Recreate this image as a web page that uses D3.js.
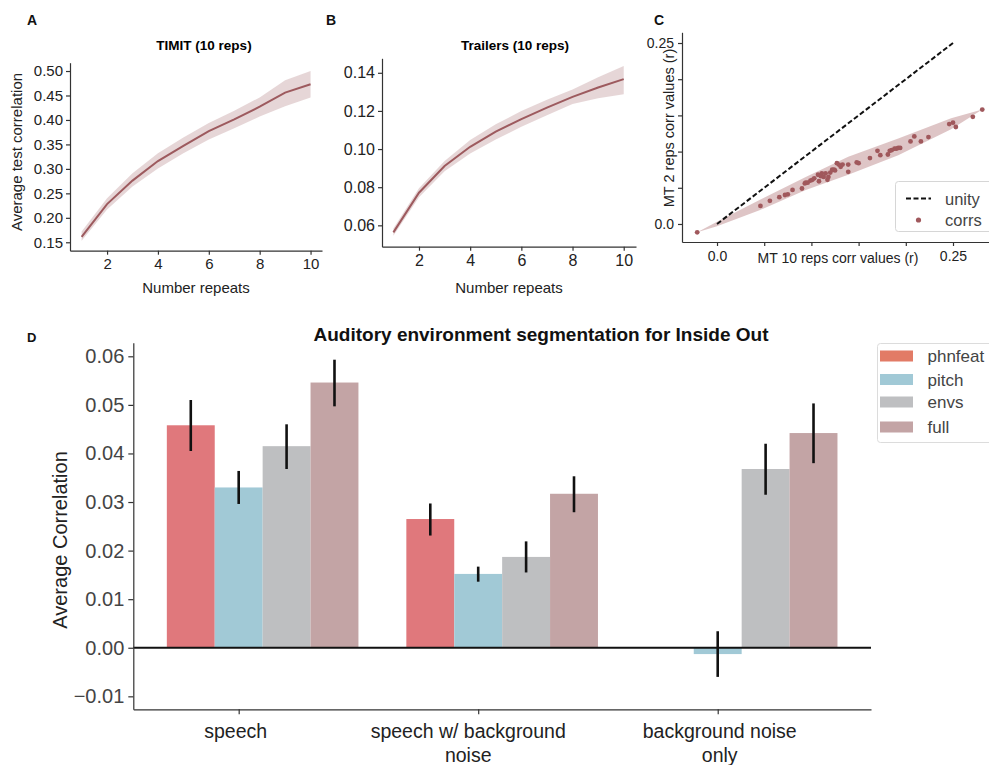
<!DOCTYPE html>
<html>
<head>
<meta charset="utf-8">
<script src="https://cdn.jsdelivr.net/npm/d3@7"></script>
<style>
  body { margin: 0; background: #fff; }
  svg { font-family: "Liberation Sans", Arial, sans-serif; }
  .dom path, .dom line { stroke: #333; stroke-width: 1.2; }
</style>
</head>
<body>
<svg id="fig" width="989" height="765"></svg>
<script>
// ---- data: panels A & B ----
const reps = [1, 2, 3, 4, 5, 6, 7, 8, 9, 10];
const timitMean = [0.161, 0.228, 0.276, 0.316, 0.347, 0.377, 0.401, 0.427, 0.456, 0.473];
const timitLo   = [0.153, 0.217, 0.264, 0.301, 0.332, 0.360, 0.383, 0.407, 0.428, 0.446];
const timitHi   = [0.172, 0.240, 0.291, 0.332, 0.364, 0.394, 0.419, 0.446, 0.481, 0.500];
const trailerMean = [0.0563, 0.0771, 0.0911, 0.1012, 0.1091, 0.1157, 0.1217, 0.1274, 0.1323, 0.1367];
const trailerLo   = [0.0545, 0.0747, 0.0884, 0.0977, 0.1050, 0.1117, 0.1177, 0.1236, 0.1266, 0.1288];
const trailerHi   = [0.0583, 0.0794, 0.0938, 0.1047, 0.1130, 0.1199, 0.1258, 0.1313, 0.1376, 0.1435];

// ---- data: panel C ----
const corr10 = [-0.021, 0.046, 0.056, 0.066, 0.072, 0.075, 0.080, 0.090, 0.093, 0.094, 0.096, 0.099,
  0.101, 0.103, 0.107, 0.108, 0.110, 0.111, 0.113, 0.115, 0.117, 0.118, 0.120, 0.122, 0.124, 0.125,
  0.127, 0.129, 0.131, 0.133, 0.139, 0.139, 0.148, 0.150, 0.162, 0.170, 0.173, 0.181, 0.183, 0.185,
  0.188, 0.190, 0.192, 0.194, 0.205, 0.209, 0.216, 0.224, 0.246, 0.250, 0.253, 0.271, 0.281];
const corr2 = [-0.0115, 0.025, 0.032, 0.037, 0.040, 0.041, 0.047, 0.049, 0.056, 0.057, 0.057, 0.060,
  0.061, 0.063, 0.068, 0.059, 0.066, 0.070, 0.065, 0.070, 0.061, 0.065, 0.071, 0.075, 0.075, 0.074,
  0.084, 0.082, 0.079, 0.082, 0.082, 0.072, 0.085, 0.084, 0.091, 0.101, 0.095, 0.096, 0.101, 0.102,
  0.104, 0.104, 0.105, 0.105, 0.114, 0.121, 0.114, 0.120, 0.138, 0.140, 0.134, 0.148, 0.158];
const bandX  = [-0.021, 0.0, 0.045, 0.094, 0.139, 0.192, 0.248, 0.281];
const bandLo = [-0.0115, -0.003, 0.019, 0.047, 0.068, 0.095, 0.131, 0.158];
const bandHi = [-0.0115, 0.003, 0.033, 0.065, 0.093, 0.118, 0.146, 0.158];
const unity = [0, 0.25];

// ---- data: panel D ----
const categories = [["speech"], ["speech w/ background", "noise"], ["background noise", "only"]];
const features = ["phnfeat", "pitch", "envs", "full"];
const phnfeat = [0.0458, 0.0265, null];
const pitch   = [0.0330, 0.0152, -0.0013];
const envs    = [0.0415, 0.0187, 0.0368];
const full    = [0.0546, 0.0317, 0.0442];
const phnfeatErr = [[0.0405, 0.0510], [0.0231, 0.0297], null];
const pitchErr   = [[0.0296, 0.0364], [0.0136, 0.0167], [-0.0060, 0.0034]];
const envsErr    = [[0.0368, 0.0460], [0.0155, 0.0219], [0.0315, 0.0420]];
const fullErr    = [[0.0497, 0.0593], [0.0279, 0.0353], [0.0380, 0.0503]];
const yTicksD = [-0.01, 0, 0.01, 0.02, 0.03, 0.04, 0.05, 0.06];

const barColors = ["#e0787c", "#a1c9d6", "#bebfc1", "#c3a4a5"];
const legendColors = ["#e27b66", "#a1c9d6", "#bebfc1", "#c3a4a5"];
const lineColor = "#9d5a5e";

const svg = d3.select("#fig");

function styleAxis(g, size, color) {
  g.classed("dom", true);
  g.selectAll("text").style("font-size", size + "px").attr("fill", color || "#222");
}

function letter(t, x, y, size) {
  svg.append("text").attr("x", x).attr("y", y).text(t)
    .style("font-weight", "bold").style("font-size", (size || 14) + "px").attr("fill", "#111");
}

// ---------- line panels (A, B) ----------
function linePanel(opt) {
  const x = d3.scaleLinear().domain(opt.xd).range([opt.left, opt.right]);
  const y = d3.scaleLinear().domain(opt.yd).range([opt.bottom, opt.top]);
  const area = d3.area().x((d, i) => x(reps[i])).y0((d, i) => y(opt.lo[i])).y1((d, i) => y(opt.hi[i]));
  svg.append("path").datum(opt.mean).attr("d", area).attr("fill", lineColor).attr("fill-opacity", 0.25);
  const line = d3.line().x((d, i) => x(reps[i])).y(d => y(d));
  svg.append("path").datum(opt.mean).attr("d", line).attr("fill", "none")
    .attr("stroke", lineColor).attr("stroke-width", 2);

  const gx = svg.append("g").attr("transform", `translate(0,${opt.bottom})`)
    .call(d3.axisBottom(x).tickValues([2, 4, 6, 8, 10]).tickSize(4).tickPadding(4).tickSizeOuter(0));
  styleAxis(gx, opt.fs);
  const gy = svg.append("g").attr("transform", `translate(${opt.left},0)`)
    .call(d3.axisLeft(y).tickValues(opt.yt).tickFormat(d3.format(opt.fmt)).tickSize(4).tickPadding(3).tickSizeOuter(0));
  styleAxis(gy, opt.fs);

  svg.append("text").attr("x", (opt.left + opt.right) / 2 + opt.titleDx).attr("y", 50)
    .attr("text-anchor", "middle").style("font-weight", "bold").style("font-size", "13.5px").text(opt.title);
  svg.append("text").attr("x", (opt.left + opt.right) / 2).attr("y", 293)
    .attr("text-anchor", "middle").style("font-size", "15px").attr("fill", "#222").text("Number repeats");
}

linePanel({
  left: 70, right: 322, top: 62.7, bottom: 250.7, xd: [0.543, 10.45], yd: [0.1328, 0.517],
  mean: timitMean, lo: timitLo, hi: timitHi, yt: d3.range(0.15, 0.501, 0.05), fmt: ".2f",
  title: "TIMIT (10 reps)", titleDx: 8, fs: 15
});
svg.append("text").attr("transform", "translate(22,152) rotate(-90)").attr("text-anchor", "middle")
  .style("font-size", "15px").attr("fill", "#222").text("Average test correlation");

linePanel({
  left: 382, right: 636, top: 58.3, bottom: 246.7, xd: [0.555, 10.48], yd: [0.0488, 0.1476],
  mean: trailerMean, lo: trailerLo, hi: trailerHi, yt: [0.06, 0.08, 0.10, 0.12, 0.14], fmt: ".2f",
  title: "Trailers (10 reps)", titleDx: 6, fs: 16
});

letter("A", 27, 25);
letter("B", 326, 25);
letter("C", 654, 25);

// ---------- panel C ----------
{
  const x = d3.scaleLinear().domain([-0.0371, 0.2892]).range([682, 990]);
  const y = d3.scaleLinear().domain([-0.0249, 0.2648]).range([242, 32.3]);
  const band = d3.area().x((d, i) => x(bandX[i])).y0((d, i) => y(bandLo[i])).y1((d, i) => y(bandHi[i]));
  svg.append("path").datum(bandX).attr("d", band).attr("fill", "#a0585c").attr("fill-opacity", 0.35);
  svg.append("line").attr("x1", x(unity[0])).attr("y1", y(unity[0])).attr("x2", x(unity[1])).attr("y2", y(unity[1]))
    .attr("stroke", "#111").attr("stroke-width", 2).attr("stroke-dasharray", "5,2.5");
  svg.append("g").selectAll("circle").data(corr10).join("circle")
    .attr("cx", d => x(d)).attr("cy", (d, i) => y(corr2[i])).attr("r", 2.4).attr("fill", "#a0585c");

  const fmtC = d => (d === 0 ? "0.0" : d === 0.25 ? "0.25" : "");
  const ticksC = [0, 0.05, 0.1, 0.15, 0.2, 0.25];
  const gx = svg.append("g").attr("transform", "translate(0,242)")
    .call(d3.axisBottom(x).tickValues(ticksC).tickFormat(fmtC).tickSize(4).tickPadding(5).tickSizeOuter(0));
  styleAxis(gx, 14);
  const gy = svg.append("g").attr("transform", "translate(682,0)")
    .call(d3.axisLeft(y).tickValues(ticksC).tickFormat(fmtC).tickSize(4).tickPadding(4).tickSizeOuter(0));
  styleAxis(gy, 14);

  svg.append("text").attr("x", 838).attr("y", 263).attr("text-anchor", "middle")
    .style("font-size", "14px").attr("fill", "#222").text("MT 10 reps corr values (r)");
  svg.append("text").attr("transform", "translate(674,128) rotate(-90)").attr("text-anchor", "middle")
    .style("font-size", "14.5px").attr("fill", "#222").text("MT 2 reps corr values (r)");

  const lg = svg.append("g");
  lg.append("rect").attr("x", 895.5).attr("y", 181.5).attr("width", 100).attr("height", 50).attr("rx", 3)
    .attr("fill", "#fff").attr("fill-opacity", 0.85).attr("stroke", "#d6d6d6");
  lg.append("line").attr("x1", 906).attr("x2", 931).attr("y1", 198.5).attr("y2", 198.5)
    .attr("stroke", "#111").attr("stroke-width", 2).attr("stroke-dasharray", "5,2.5");
  lg.append("circle").attr("cx", 918.5).attr("cy", 220).attr("r", 2.6).attr("fill", "#a0585c");
  lg.append("text").attr("x", 945).attr("y", 204.5).style("font-size", "16.5px").attr("fill", "#444").text("unity");
  lg.append("text").attr("x", 945).attr("y", 226).style("font-size", "16.5px").attr("fill", "#444").text("corrs");
}

// ---------- panel D ----------
{
  const x = d3.scaleLinear().domain([-0.44, 2.64]).range([133.3, 871]);
  const y = d3.scaleLinear().domain([-0.01267, 0.0628]).range([709.3, 342.7]);
  const vals = [phnfeat, pitch, envs, full];
  const errs = [phnfeatErr, pitchErr, envsErr, fullErr];
  const bw = 0.2;
  // bar k is centred at category + (k - 1) * bw, so the tick sits under the 2nd bar
  const barLeft = (c, k) => c - 0.3 + k * bw;

  features.forEach((f, k) => {
    const g = svg.append("g");
    vals[k].forEach((v, c) => {
      if (v === null) return;
      const x0 = barLeft(c, k);
      g.append("rect").attr("x", x(x0)).attr("width", x(x0 + bw) - x(x0))
        .attr("y", y(Math.max(v, 0))).attr("height", Math.abs(y(v) - y(0)))
        .attr("fill", barColors[k]);
    });
  });

  svg.append("line").attr("x1", 133.3).attr("x2", 871).attr("y1", y(0)).attr("y2", y(0))
    .attr("stroke", "#111").attr("stroke-width", 2);

  features.forEach((f, k) => {
    errs[k].forEach((e, c) => {
      if (!e) return;
      const xc = barLeft(c, k) + bw / 2;
      svg.append("line").attr("x1", x(xc)).attr("x2", x(xc)).attr("y1", y(e[0])).attr("y2", y(e[1]))
        .attr("stroke", "#111").attr("stroke-width", 2.6);
    });
  });

  const gy = svg.append("g").attr("transform", "translate(133.3,0)")
    .call(d3.axisLeft(y).tickValues(yTicksD).tickFormat(d3.format(".2f")).tickSize(5).tickPadding(4).tickSizeOuter(0));
  styleAxis(gy, 20, "#444");
  const gx = svg.append("g").attr("transform", "translate(0,709.3)")
    .call(d3.axisBottom(x).tickValues([0, 1, 2]).tickFormat("").tickSize(5).tickSizeOuter(0));
  styleAxis(gx, 19);

  const labelDx = [-3, -10, 2];
  categories.forEach((lines, c) => {
    const t = svg.append("text").attr("y", 738).attr("text-anchor", "middle")
      .style("font-size", "19.5px").attr("fill", "#222");
    lines.forEach((s, i) => t.append("tspan").attr("x", x(c) + labelDx[c]).attr("dy", i ? 23.5 : 0).text(s));
  });

  svg.append("text").attr("transform", "translate(67,540) rotate(-90)").attr("text-anchor", "middle")
    .style("font-size", "20px").attr("fill", "#222").text("Average Correlation");
  svg.append("text").attr("x", 541).attr("y", 341).attr("text-anchor", "middle")
    .style("font-weight", "bold").style("font-size", "19px").attr("fill", "#111")
    .text("Auditory environment segmentation for Inside Out");
  letter("D", 27, 342, 13);

  const lg = svg.append("g");
  lg.append("rect").attr("x", 877.5).attr("y", 343.5).attr("width", 120).attr("height", 99).attr("rx", 3)
    .attr("fill", "#fff").attr("stroke", "#dcdcdc");
  features.forEach((f, k) => {
    const cy = [356, 379.5, 402, 427][k];
    lg.append("rect").attr("x", 880).attr("y", cy - 5.5).attr("width", 33).attr("height", 11).attr("fill", legendColors[k]);
    lg.append("text").attr("x", 927.5).attr("y", cy + 6).style("font-size", "17px").attr("fill", "#444").text(f);
  });
}
</script>
</body>
</html>
